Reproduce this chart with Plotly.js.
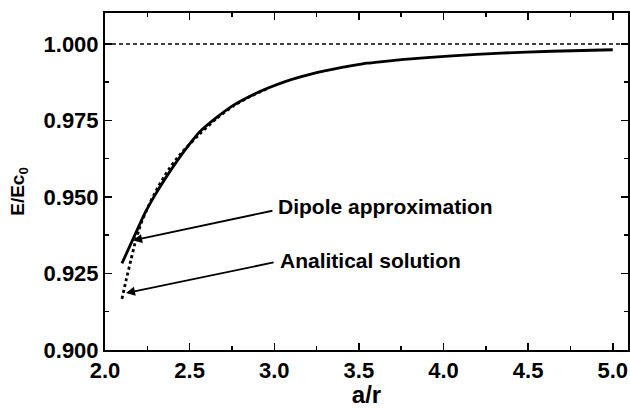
<!DOCTYPE html>
<html><head><meta charset="utf-8">
<script src="https://cdn.plot.ly/plotly-3.0.1.min.js"></script>
<style>html,body{margin:0;padding:0;background:#fff}</style>
</head><body><div id="chart" style="width:630px;height:408px"></div>
<script>
// Dipole approximation (solid)
const dipoleX = [2.10, 2.17, 2.23, 2.29, 2.35, 2.42, 2.49, 2.56, 2.66, 2.76, 2.86, 2.96, 3.06, 3.16, 3.25, 3.35, 3.45, 3.55, 3.65, 3.75, 4.05, 4.34, 4.64, 5.0];
const dipoleY = [0.9283, 0.9368, 0.9441, 0.9501, 0.9555, 0.9613, 0.9666, 0.9713, 0.9760, 0.9800, 0.9830, 0.9855, 0.9876, 0.9893, 0.9906, 0.9918, 0.9928, 0.9937, 0.9943, 0.9949, 0.9961, 0.9970, 0.9976, 0.9981];
// Analytical solution (dotted)
const analX = [2.10, 2.125, 2.153, 2.179, 2.199, 2.219, 2.245, 2.269, 2.289, 2.319, 2.349, 2.379, 2.419, 2.458, 2.508, 2.56, 2.66, 2.76, 2.86, 2.96];
const analY = [0.9167, 0.9229, 0.9294, 0.9353, 0.9390, 0.9422, 0.9455, 0.9485, 0.9507, 0.9538, 0.9566, 0.9592, 0.9622, 0.9648, 0.9677, 0.9706, 0.9757, 0.9798, 0.9829, 0.9854];
// Reference level
const refX = [2.0, 5.09];
const refY = [1.0, 1.0];
const xTicks = [2.0, 2.5, 3.0, 3.5, 4.0, 4.5, 5.0];
const xTickText = ["2.0", "2.5", "3.0", "3.5", "4.0", "4.5", "5.0"];
const yTicks = [0.900, 0.925, 0.950, 0.975, 1.000];
const yTickText = ["0.900", "0.925", "0.950", "0.975", "1.000"];
const labels = ["Dipole approximation", "Analitical solution"];
const labelPos = [[3.01, 0.9468], [3.025, 0.9291]];
const arrowTail = [[2.998, 0.9456], [3.005, 0.9287]];
const arrowHead = [[2.166, 0.9358], [2.124, 0.9186]];
const yTitle = "E/Ec<sub>0</sub>";
const xTitle = "a/r";

const font = "Liberation Sans, Arial, Helvetica, sans-serif";
const bold = s => "<b>" + s + "</b>";
const traces = [
  {x: refX, y: refY, mode: "lines", line: {color: "#000", width: 1.5, dash: "4px,3px"}, hoverinfo: "skip"},
  {x: analX, y: analY, mode: "lines", line: {color: "#000", width: 2.8, dash: "dot", shape: "spline", smoothing: 0.5}},
  {x: dipoleX, y: dipoleY, mode: "lines", line: {color: "#000", width: 2.8, shape: "spline", smoothing: 0.5}}
];
const annotations = [];
for (let i = 0; i < labels.length; i++) {
  annotations.push({x: arrowHead[i][0], y: arrowHead[i][1], xref: "x", yref: "y",
    ax: arrowTail[i][0], ay: arrowTail[i][1], axref: "x", ayref: "y",
    text: "", showarrow: true, arrowhead: 2, arrowsize: 1, arrowwidth: 1.8, arrowcolor: "#000"});
  annotations.push({x: labelPos[i][0], y: labelPos[i][1], xref: "x", yref: "y",
    text: bold(labels[i]), showarrow: false, xanchor: "left", yanchor: "middle",
    font: {family: font, size: 21, color: "#000"}});
}
annotations.push({x: -0.166, y: 0.47, xref: "paper", yref: "paper", text: bold(yTitle),
  textangle: -90, showarrow: false, xanchor: "center", yanchor: "middle",
  font: {family: font, size: 19, color: "#000"}});
const axisCommon = {
  showgrid: false, zeroline: false, showline: true, linecolor: "#000", linewidth: 2,
  mirror: "ticks", ticks: "inside", ticklen: 7, tickwidth: 1.5, tickcolor: "#000",
  tickfont: {family: font, size: 22, color: "#000"}
};
const layout = {
  width: 630, height: 408, showlegend: false,
  paper_bgcolor: "#fff", plot_bgcolor: "#fff",
  margin: {l: 105, r: 2, t: 13, b: 58},
  xaxis: Object.assign({}, axisCommon, {
    range: [2.0, 5.09], tickvals: xTicks, ticktext: xTickText.map(bold),
    minor: {dtick: 0.25, tick0: 2.0, ticks: "inside", ticklen: 4, tickwidth: 1.5, tickcolor: "#000"},
    title: {text: bold(xTitle), font: {family: font, size: 24, color: "#000"}, standoff: 2}
  }),
  yaxis: Object.assign({}, axisCommon, {
    range: [0.9, 1.0101], tickvals: yTicks, ticktext: yTickText.map(bold),
    minor: {dtick: 0.0125, tick0: 0.9, ticks: "inside", ticklen: 4, tickwidth: 1.5, tickcolor: "#000"}
  }),
  annotations: annotations
};
Plotly.newPlot("chart", traces, layout, {staticPlot: true, displayModeBar: false});
</script></body></html>
